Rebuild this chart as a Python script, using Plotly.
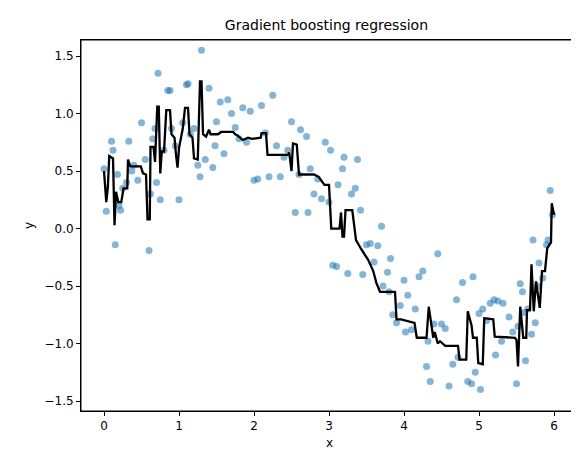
import plotly.graph_objects as go

pts_x = [0.0,0.03,0.1,0.12,0.15,0.18,0.2,0.22,0.25,0.3,0.33,0.37,0.4,0.45,0.5,0.55,0.6,0.62,0.65,0.68,0.7,0.72,0.75,0.8,0.85,0.88,0.9,0.95,1.0,1.05,1.1,1.12,1.15,1.2,1.25,1.28,1.3,1.35,1.4,1.45,1.48,1.5,1.55,1.6,1.65,1.7,1.75,1.8,1.85,1.9,1.95,2.0,2.05,2.1,2.15,2.2,2.25,2.3,2.35,2.4,2.45,2.5,2.55,2.6,2.62,2.7,2.72,2.75,2.8,2.85,2.9,2.95,3.0,3.02,3.05,3.1,3.12,3.18,3.2,3.25,3.3,3.35,3.38,3.42,3.45,3.5,3.55,3.6,3.65,3.7,3.72,3.78,3.8,3.82,3.85,3.9,3.95,4.0,4.02,4.05,4.1,4.15,4.2,4.25,4.3,4.32,4.35,4.4,4.45,4.5,4.55,4.6,4.65,4.7,4.72,4.78,4.85,4.9,4.92,4.95,5.0,5.02,5.05,5.1,5.15,5.2,5.22,5.25,5.3,5.32,5.4,5.45,5.5,5.52,5.55,5.58,5.6,5.62,5.65,5.7,5.72,5.75,5.78,5.8,5.85,5.9,5.92,5.95,5.98]
pts_y = [0.52,0.15,0.76,0.68,-0.14,0.47,0.2,0.16,0.35,0.4,0.76,0.5,0.55,0.42,0.92,0.6,-0.19,0.3,0.78,0.87,0.4,1.35,0.25,0.68,1.2,1.2,0.87,0.72,0.25,0.92,1.25,1.26,0.82,0.87,0.55,0.45,1.55,0.6,1.22,0.53,0.72,0.93,1.1,0.65,1.12,1.0,0.88,0.78,1.05,0.75,1.02,0.42,0.43,1.07,0.83,0.45,1.16,0.72,0.45,0.62,0.68,0.93,0.14,0.47,0.86,0.8,0.14,0.52,0.3,0.43,0.26,0.75,0.23,0.68,-0.32,-0.33,0.38,0.52,0.62,-0.39,0.3,0.35,0.6,0.16,-0.4,-0.14,-0.13,-0.29,-0.15,0.02,-0.5,-0.38,-0.55,-0.26,-0.75,-0.82,-0.67,-0.45,-0.9,-0.58,-0.88,-0.7,-0.42,-0.37,-1.2,-0.98,-1.33,-0.83,-0.22,-0.83,-0.87,-1.37,-1.18,-0.62,-1.12,-0.47,-1.33,-1.35,-0.42,-1.25,-0.74,-1.4,-0.7,-0.8,-0.65,-0.62,-1.1,-0.63,-0.98,-0.65,-0.77,-0.9,-1.35,-0.85,-0.48,-0.55,-0.73,-1.15,-0.7,-0.92,-0.1,-0.82,-0.5,-0.3,-0.43,-0.14,-0.1,0.33,0.12]

line_x = [0.0,0.03,0.05,0.07,0.12,0.14,0.16,0.19,0.23,0.26,0.31,0.32,0.35,0.49,0.52,0.56,0.58,0.61,0.62,0.66,0.68,0.71,0.73,0.75,0.77,0.8,0.83,0.88,0.9,0.94,0.96,0.98,1.0,1.05,1.08,1.12,1.14,1.18,1.2,1.25,1.28,1.3,1.32,1.36,1.4,1.42,1.52,1.56,1.72,1.75,1.78,1.85,1.92,1.97,2.09,2.1,2.16,2.18,2.45,2.47,2.5,2.52,2.57,2.6,2.8,2.86,2.94,3.0,3.03,3.14,3.16,3.18,3.2,3.22,3.31,3.34,3.36,3.43,3.52,3.59,3.63,3.68,3.88,3.9,3.92,3.96,4.14,4.17,4.19,4.3,4.33,4.39,4.41,4.45,4.48,4.55,4.72,4.74,4.83,4.85,4.9,4.92,4.97,4.99,5.05,5.07,5.19,5.21,5.48,5.5,5.52,5.55,5.59,5.63,5.64,5.68,5.7,5.73,5.76,5.81,5.84,5.88,5.91,5.96,5.97,6.0]
line_y = [0.5,0.23,0.35,0.63,0.61,0.03,0.32,0.23,0.23,0.35,0.35,0.6,0.54,0.54,0.48,0.47,0.08,0.08,0.71,0.71,0.58,1.06,1.06,0.48,0.67,0.67,1.03,1.03,0.82,0.79,0.64,0.53,0.7,0.87,1.05,1.05,0.82,0.79,0.61,0.6,1.28,1.28,0.82,0.8,0.86,0.82,0.82,0.84,0.84,0.82,0.81,0.77,0.79,0.78,0.79,0.83,0.83,0.64,0.64,0.66,0.5,0.74,0.73,0.47,0.47,0.45,0.38,0.38,0.0,0.0,0.14,-0.07,-0.07,0.16,0.16,0.03,-0.1,-0.18,-0.27,-0.37,-0.47,-0.55,-0.55,-0.79,-0.79,-0.79,-0.82,-0.95,-0.95,-0.95,-0.68,-0.95,-0.9,-1.0,-0.98,-1.02,-1.02,-1.14,-1.14,-0.72,-0.84,-0.95,-0.95,-1.17,-1.18,-0.78,-0.79,-0.94,-0.95,-0.97,-1.2,-0.68,-0.95,-0.95,-0.71,-0.71,-0.31,-0.72,-0.46,-0.69,-0.37,-0.37,-0.17,-0.12,0.22,0.12]

F = "DejaVu Sans"
fig = go.Figure()
fig.add_trace(go.Scatter(x=pts_x, y=pts_y, mode="markers",
    marker=dict(color="#1f77b4", size=7, opacity=0.55, line=dict(width=0)), showlegend=False))
fig.add_trace(go.Scatter(x=line_x, y=line_y, mode="lines",
    line=dict(color="black", width=2.3), showlegend=False))

ax = dict(showline=True, linecolor="black", linewidth=1, mirror=True, ticks="outside",
          ticklen=4, tickcolor="black", showgrid=False, zeroline=False,
          tickfont=dict(family=F, size=12, color="black"))
fig.update_layout(
    width=579, height=453, margin=dict(l=73, r=9, t=32, b=50),
    plot_bgcolor="white", paper_bgcolor="white",
    title=dict(text="Gradient boosting regression", x=0.55, xanchor="center",
               y=0.963, yanchor="middle",
               font=dict(family=F, size=14, color="black")),
    xaxis=dict(ax, range=[-0.307, 6.32], tickvals=[0,1,2,3,4,5,6],
               title=dict(text="x", font=dict(family=F, size=12, color="black"), standoff=6)),
    yaxis=dict(ax, range=[-1.587, 1.64], tickvals=[-1.5,-1.0,-0.5,0.0,0.5,1.0,1.5],
               ticktext=["−1.5","−1.0","−0.5","0.0","0.5","1.0","1.5"],
               title=dict(text="y", font=dict(family=F, size=12, color="black"), standoff=8)),
    shapes=[dict(type="rect", xref="paper", yref="paper", x0=0, y0=0, x1=1, y1=1,
                 line=dict(color="black", width=1), layer="above")],
)
fig.write_html("out.html")
